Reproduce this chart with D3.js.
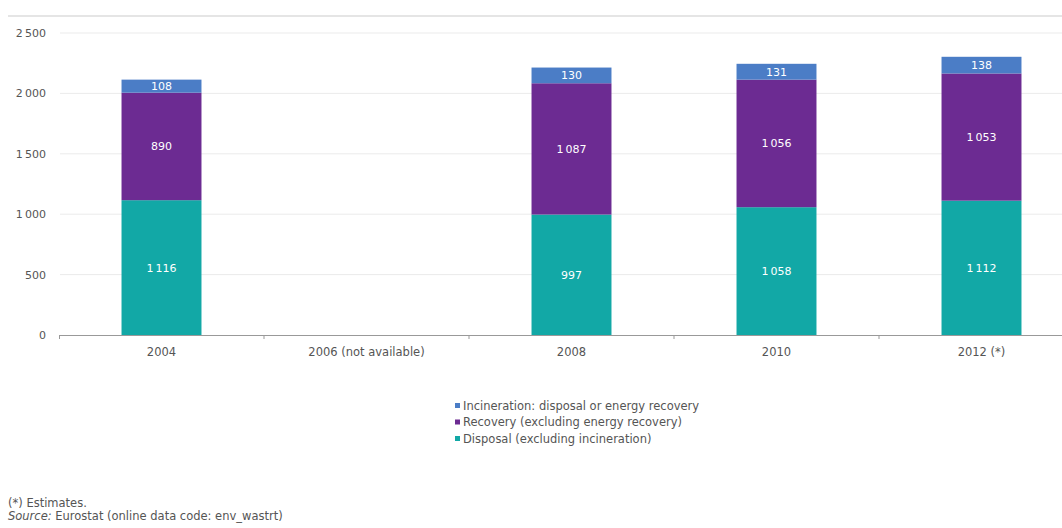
<!DOCTYPE html>
<html>
<head>
<meta charset="utf-8">
<script src="https://cdn.jsdelivr.net/npm/d3@7"></script>
<style>
  body { margin: 0; background: #fff; }
  svg { font-family: "DejaVu Sans", "Liberation Sans", Arial, sans-serif; display: block; }
</style>
</head>
<body>
<svg id="chart"></svg>
<script>
const width = 1062, height = 528;

// data (thousand tonnes)
const years = ["2004", "2006 (not available)", "2008", "2010", "2012 (*)"];
const disposal = [1116, null, 997, 1058, 1112];
const recovery = [890, null, 1087, 1056, 1053];
const incineration = [108, null, 130, 131, 138];
const seriesNames = [
    "Incineration: disposal or energy recovery",
    "Recovery (excluding energy recovery)",
    "Disposal (excluding incineration)"
];
const yTicks = [0, 500, 1000, 1500, 2000, 2500];

const colors = {
    disposal: "#12a8a6",
    recovery: "#6c2b92",
    incineration: "#4b7dc6"
};

const svg = d3.select("#chart")
    .attr("width", width)
    .attr("height", height);

const x = d3.scaleBand()
    .domain(years)
    .range([59, 1084])
    .paddingInner(0.61)
    .paddingOuter(0.305);

const y = d3.scaleLinear()
    .domain([0, 2500])
    .range([335, 33]);

const fmt = v => d3.format(",")(v).replace(/,/g, "\u2009");

// top separator line
svg.append("line")
    .attr("x1", 8).attr("x2", width)
    .attr("y1", 16).attr("y2", 16)
    .attr("stroke", "#dcdcdc").attr("stroke-width", 1.5);

// gridlines
svg.append("g")
    .selectAll("line")
    .data(yTicks.filter(d => d > 0))
    .join("line")
    .attr("x1", 60).attr("x2", width)
    .attr("y1", d => y(d)).attr("y2", d => y(d))
    .attr("stroke", "#ebebeb");

// y labels
svg.append("g")
    .selectAll("text")
    .data(yTicks)
    .join("text")
    .attr("x", 46)
    .attr("y", d => y(d) + 4)
    .attr("text-anchor", "end")
    .attr("font-size", 11)
    .attr("fill", "#555")
    .text(d => fmt(d));

// stacked bars
const rows = years.map((yr, i) => ({
    year: yr,
    disposal: disposal[i],
    recovery: recovery[i],
    incineration: incineration[i]
})).filter(d => d.disposal != null);

const stack = d3.stack().keys(["disposal", "recovery", "incineration"]);
const layers = stack(rows);

const groups = svg.append("g")
    .selectAll("g")
    .data(layers)
    .join("g")
    .attr("fill", d => colors[d.key]);

groups.selectAll("rect")
    .data(d => d)
    .join("rect")
    .attr("x", d => x(d.data.year))
    .attr("width", x.bandwidth())
    .attr("y", d => y(d[1]))
    .attr("height", d => y(d[0]) - y(d[1]));

groups.selectAll("text")
    .data(d => d.map(v => Object.assign({ key: d.key }, v)))
    .join("text")
    .attr("x", d => x(d.data.year) + x.bandwidth() / 2)
    .attr("y", d => (y(d[0]) + y(d[1])) / 2 + 4)
    .attr("text-anchor", "middle")
    .attr("font-size", 11)
    .attr("fill", "#fff")
    .text(d => fmt(d.data[d.key]));

// x axis
const axis = svg.append("g");
axis.append("line")
    .attr("x1", 59).attr("x2", width)
    .attr("y1", 335.5).attr("y2", 335.5)
    .attr("stroke", "#999");
axis.selectAll(".tick")
    .data(years.slice(1))
    .join("line")
    .attr("x1", d => x(d) - x.step() * x.paddingInner() / 2)
    .attr("x2", d => x(d) - x.step() * x.paddingInner() / 2)
    .attr("y1", 335).attr("y2", 339)
    .attr("stroke", "#999");
axis.append("line")
    .attr("x1", 59.5).attr("x2", 59.5)
    .attr("y1", 335).attr("y2", 339)
    .attr("stroke", "#999");
axis.selectAll("text")
    .data(years)
    .join("text")
    .attr("x", d => x(d) + x.bandwidth() / 2)
    .attr("y", 356)
    .attr("text-anchor", "middle")
    .attr("font-size", 11.5)
    .attr("fill", "#555")
    .text(d => d);

// legend
const legendColors = [colors.incineration, colors.recovery, colors.disposal];
const legend = svg.append("g")
    .selectAll("g")
    .data(seriesNames)
    .join("g")
    .attr("transform", (d, i) => `translate(455, ${407 + i * 16.5})`);
legend.append("rect")
    .attr("x", 0).attr("y", -4)
    .attr("width", 5).attr("height", 5)
    .attr("fill", (d, i) => legendColors[i]);
legend.append("text")
    .attr("x", 8).attr("y", 2.5)
    .attr("font-size", 11.5)
    .attr("fill", "#555")
    .text(d => d);

// footnotes
svg.append("text")
    .attr("x", 8).attr("y", 507)
    .attr("font-size", 11.5)
    .attr("fill", "#555")
    .text("(*) Estimates.");
const src = svg.append("text")
    .attr("x", 8).attr("y", 520)
    .attr("font-size", 11.5)
    .attr("fill", "#555");
src.append("tspan").attr("font-style", "italic").text("Source:");
src.append("tspan").text(" Eurostat (online data code: env_wastrt)");
</script>
</body>
</html>
